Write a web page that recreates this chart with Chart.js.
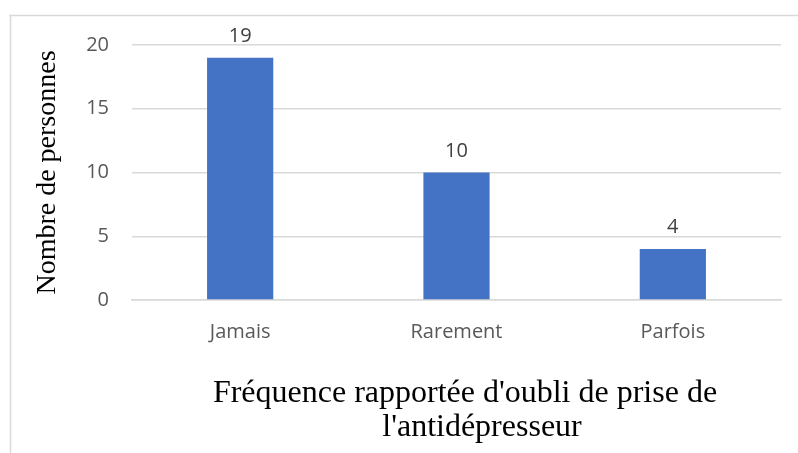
<!DOCTYPE html>
<html>
<head>
<meta charset="utf-8">
<script src="https://cdn.jsdelivr.net/npm/chart.js@4"></script>
<style>
  html, body { margin: 0; padding: 0; background: #fff; }
  #wrap { width: 798px; height: 453px; position: relative; }
</style>
</head>
<body>
<div id="wrap"><canvas id="chart" width="798" height="453"></canvas></div>
<script>
const categories = ['Jamais', 'Rarement', 'Parfois'];
const counts = [19, 10, 4];
const yTicks = [0, 5, 10, 15, 20];
const yTitle = 'Nombre de personnes';
const xTitleLines = ["Fréquence rapportée d'oubli de prise de", "l'antidépresseur"];

const tickFont = { family: '"Open Sans", sans-serif', size: 20 };

// light frame on top and left, like the cropped Excel chart border
const framePlugin = {
  id: 'frame',
  beforeDraw(chart) {
    const c = chart.ctx;
    c.save();
    c.strokeStyle = '#d9d9d9';
    c.lineWidth = 1.5;
    c.beginPath();
    c.moveTo(9, 15.5);
    c.lineTo(798, 15.5);
    c.moveTo(10.5, 15);
    c.lineTo(10.5, 453);
    c.stroke();
    c.restore();
  }
};

const valueLabels = {
  id: 'valueLabels',
  afterDatasetsDraw(chart) {
    const c = chart.ctx;
    const meta = chart.getDatasetMeta(0);
    c.save();
    c.font = '20px "Open Sans", sans-serif';
    c.fillStyle = '#404040';
    c.textAlign = 'center';
    c.textBaseline = 'alphabetic';
    meta.data.forEach((bar, i) => {
      c.fillText(String(counts[i]), bar.x, bar.y - 16);
    });
    c.restore();
  }
};

const xTitle = {
  id: 'xTitle',
  afterDraw(chart) {
    const c = chart.ctx;
    c.save();
    c.font = '32px "Liberation Serif", "Times New Roman", serif';
    c.fillStyle = '#000';
    c.textAlign = 'center';
    c.textBaseline = 'alphabetic';
    c.fillText(xTitleLines[0], 465, 402);
    c.fillText(xTitleLines[1], 482, 436);
    c.restore();
  }
};

new Chart(document.getElementById('chart'), {
  type: 'bar',
  data: {
    labels: categories,
    datasets: [{
      data: counts,
      backgroundColor: '#4472c4',
      borderWidth: 0,
      barPercentage: 0.306,
      categoryPercentage: 1
    }]
  },
  options: {
    responsive: false,
    animation: false,
    layout: { padding: { left: 0, top: 45, right: 17, bottom: 0 } },
    plugins: {
      legend: { display: false },
      tooltip: { enabled: false }
    },
    scales: {
      x: {
        grid: { display: false, drawTicks: false },
        border: { display: true, color: '#d9d9d9', width: 1.5 },
        ticks: { font: tickFont, color: '#595959', padding: 20 },
        afterFit(scale) { scale.height = 153; }
      },
      y: {
        min: 0,
        max: 20,
        afterBuildTicks(scale) { scale.ticks = yTicks.map(v => ({ value: v })); },
        grid: { color: '#d9d9d9', lineWidth: 1.5, drawTicks: false },
        border: { display: false },
        ticks: { font: tickFont, color: '#595959', padding: 23 },
        title: {
          display: true,
          text: yTitle,
          color: '#000',
          font: { family: '"Liberation Serif", "Times New Roman", serif', size: 28 },
          padding: { top: 31, bottom: 0 }
        },
        afterFit(scale) { scale.width = 132; }
      }
    }
  },
  plugins: [framePlugin, valueLabels, xTitle]
});
</script>
</body>
</html>
